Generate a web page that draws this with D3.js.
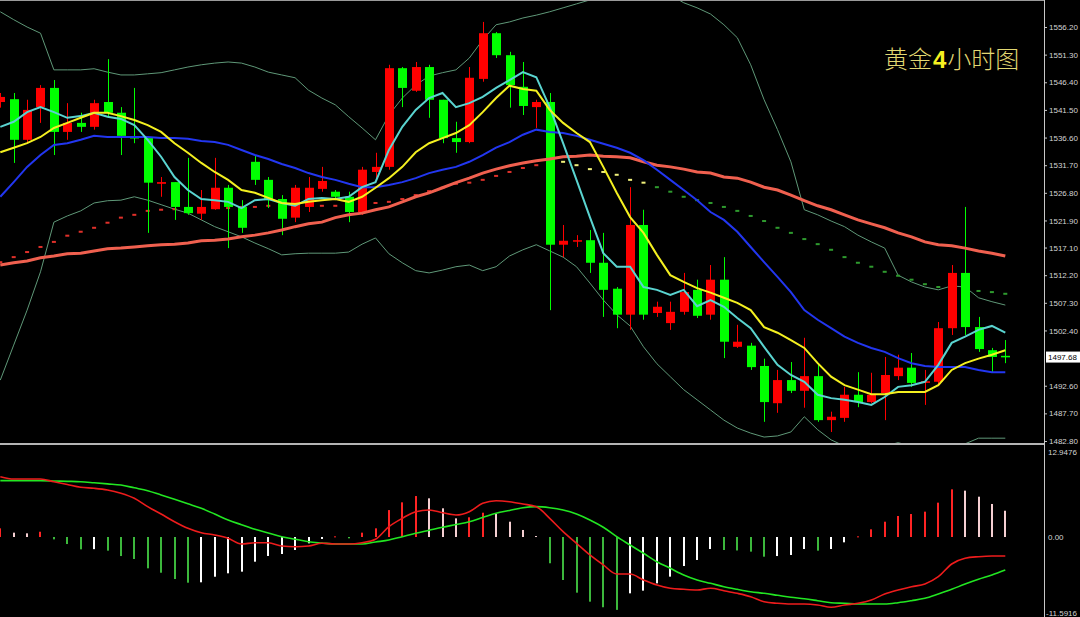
<!DOCTYPE html>
<html><head><meta charset="utf-8">
<script src="https://cdn.jsdelivr.net/npm/d3@7"></script>
<style>html,body{margin:0;padding:0;background:#000;overflow:hidden}</style>
</head><body><svg id="c" width="1080" height="617"></svg>
<script>
// ---------- data (4h gold candles) ----------
const openP  = [1542.9,1543.4,1536.2,1542.0,1545.4,1537.6,1539.2,1538.5,1542.9,1541.0,1536.7,1536.5,1528.4,1528.7,1524.3,1523.1,1523.9,1527.7,1524.3,1532.3,1529.1,1525.7,1522.4,1524.3,1527.5,1527.0,1526.1,1523.4,1530.5,1531.4,1548.9,1544.9,1549.1,1543.3,1536.5,1535.8,1547.0,1555.1,1551.2,1545.6,1542.0,1542.9,1517.6,1518.3,1518.4,1514.4,1509.8,1505.2,1521.1,1505.5,1503.7,1505.7,1509.6,1505.2,1511.4,1499.5,1499.7,1496.1,1489.5,1493.6,1491.7,1494.3,1486.5,1486.9,1491.0,1489.7,1491.3,1494.3,1495.8,1493.1,1493.3,1502.8,1512.6,1503.0,1498.9,1497.9];
const highP  = [1544.5,1544.5,1543.3,1545.9,1546.8,1542.7,1541.0,1543.3,1550.5,1542.0,1545.4,1536.5,1529.6,1528.7,1533.0,1527.3,1533.0,1528.2,1525.5,1533.5,1529.6,1526.4,1528.2,1529.6,1531.4,1527.3,1527.0,1531.4,1533.9,1549.5,1549.1,1550.0,1549.5,1543.3,1539.4,1549.1,1557.1,1555.3,1551.8,1550.0,1543.3,1544.5,1521.1,1519.3,1520.2,1519.7,1510.1,1527.8,1523.8,1507.5,1507.5,1512.6,1511.4,1514.0,1515.4,1503.4,1500.2,1497.4,1495.4,1496.8,1501.1,1496.6,1488.0,1492.4,1495.0,1494.9,1497.7,1498.1,1498.4,1495.4,1503.9,1514.0,1524.3,1504.8,1499.3,1500.7];
const lowP   = [1541.9,1532.1,1535.6,1539.2,1533.5,1536.2,1537.6,1538.0,1540.1,1533.5,1535.6,1519.7,1526.1,1522.0,1522.9,1522.0,1523.8,1517.0,1519.7,1528.2,1524.1,1519.3,1521.6,1523.4,1527.0,1525.5,1521.6,1522.9,1529.1,1530.9,1542.0,1544.7,1540.1,1535.6,1533.9,1535.6,1546.5,1550.7,1541.9,1540.6,1538.3,1506.0,1515.4,1517.2,1512.6,1504.8,1502.8,1502.5,1504.3,1504.8,1502.5,1505.2,1504.6,1504.3,1497.5,1499.3,1495.4,1486.2,1487.8,1491.3,1488.7,1486.2,1484.4,1486.2,1488.8,1489.5,1486.5,1493.6,1492.4,1489.2,1492.7,1501.6,1501.6,1498.6,1495.0,1496.6];
const closeP = [1543.8,1536.2,1541.5,1545.4,1537.6,1539.2,1538.5,1542.7,1541.0,1536.9,1536.5,1528.6,1528.7,1524.3,1523.2,1524.3,1527.7,1524.3,1520.6,1529.1,1525.5,1522.2,1527.7,1527.7,1528.9,1526.1,1523.4,1530.9,1531.4,1548.9,1545.4,1549.1,1543.3,1536.5,1535.8,1547.2,1555.1,1551.2,1545.9,1542.2,1542.9,1517.6,1518.3,1518.4,1514.4,1509.6,1505.2,1521.1,1505.2,1506.6,1505.7,1509.2,1505.0,1511.4,1500.4,1500.4,1495.9,1489.7,1493.6,1491.7,1494.3,1486.5,1487.1,1491.0,1489.7,1491.0,1494.5,1495.8,1493.1,1493.4,1502.8,1512.6,1503.0,1499.1,1497.7,1497.7];
const lastPrice = 1497.68;

// moving averages and bands
const maFast = [1538.5,1539.4,1541.1,1542.0,1541.1,1540.1,1540.4,1541.0,1540.3,1539.9,1538.8,1536.2,1533.2,1529.6,1527.3,1525.7,1525.5,1525.2,1524.1,1525.5,1525.7,1525.0,1524.5,1525.7,1525.9,1525.7,1526.1,1527.8,1528.7,1534.4,1538.5,1541.5,1543.6,1544.5,1542.0,1542.7,1543.8,1545.4,1546.8,1548.2,1547.3,1542.0,1535.6,1529.1,1522.5,1516.1,1513.7,1513.7,1510.1,1509.6,1508.7,1509.6,1506.7,1507.8,1506.6,1504.6,1502.8,1499.5,1496.3,1494.5,1493.3,1491.0,1490.4,1490.1,1489.7,1489.2,1490.6,1492.4,1492.7,1493.3,1496.3,1500.2,1501.3,1502.5,1503.2,1502.0];
const maMid  = [1534.0,1534.8,1535.6,1536.7,1538.3,1539.2,1540.1,1541.0,1541.0,1540.4,1539.7,1538.8,1537.6,1535.6,1533.9,1532.1,1530.5,1529.1,1527.3,1526.8,1525.9,1525.0,1524.8,1525.2,1525.5,1525.7,1525.2,1526.1,1527.7,1529.4,1531.4,1534.0,1535.6,1536.5,1537.4,1538.8,1541.1,1543.6,1545.8,1545.2,1544.9,1541.5,1539.2,1537.4,1535.8,1531.4,1526.8,1522.5,1519.7,1515.8,1512.2,1511.0,1509.9,1509.1,1508.2,1507.3,1506.0,1503.0,1502.0,1500.7,1499.3,1496.6,1494.2,1492.7,1491.9,1491.1,1491.1,1491.5,1491.5,1491.5,1492.7,1495.4,1496.6,1497.4,1498.1,1498.9];
const maSlow = [1526.1,1528.7,1531.4,1533.5,1535.3,1535.6,1536.2,1536.9,1536.7,1536.7,1536.7,1536.7,1536.5,1536.5,1536.4,1536.0,1535.8,1535.3,1534.4,1533.5,1532.8,1531.9,1531.2,1530.3,1529.6,1529.1,1528.4,1527.8,1527.8,1528.2,1528.7,1529.4,1530.3,1530.9,1531.4,1532.3,1533.5,1534.8,1535.8,1537.1,1538.0,1537.6,1537.4,1536.9,1536.2,1535.5,1534.8,1533.9,1532.6,1530.9,1529.1,1527.3,1525.5,1523.4,1522.0,1519.9,1517.2,1514.5,1511.9,1509.2,1506.0,1504.3,1502.8,1501.3,1500.2,1499.3,1498.6,1497.5,1496.6,1496.1,1495.9,1495.9,1495.9,1495.4,1495.0,1495.0];
const maLong = [1514.0,1514.4,1514.7,1515.3,1515.6,1516.0,1516.1,1516.5,1516.9,1517.0,1517.2,1517.4,1517.6,1517.7,1517.9,1518.3,1518.4,1518.6,1519.0,1519.3,1519.7,1520.2,1520.8,1521.3,1521.6,1522.4,1522.9,1523.2,1523.8,1524.3,1525.2,1526.1,1526.8,1527.7,1528.6,1529.4,1530.3,1531.0,1531.6,1532.1,1532.5,1532.8,1533.2,1533.3,1533.5,1533.3,1533.2,1533.0,1532.3,1531.7,1531.4,1531.0,1530.5,1530.3,1529.6,1529.4,1528.7,1527.8,1527.3,1526.4,1525.4,1524.5,1523.8,1522.9,1522.0,1521.3,1520.6,1519.7,1519.0,1518.1,1517.6,1517.4,1517.0,1516.5,1516.1,1515.6];
const bandUpper = [1558.9,1557.5,1556.2,1555.1,1548.6,1548.6,1548.6,1548.8,1548.2,1547.7,1547.7,1547.9,1548.1,1548.6,1549.1,1549.5,1549.8,1550.0,1549.8,1549.1,1548.2,1547.7,1547.2,1545.0,1543.6,1542.4,1540.3,1538.3,1536.2,1540.6,1543.6,1545.9,1547.5,1548.1,1548.6,1550.7,1553.9,1556.6,1557.1,1557.8,1558.3,1558.9,1559.6,1560.3,1561.0,1561.9,1562.8,1563.1,1563.1,1562.8,1561.9,1560.5,1559.6,1558.5,1556.6,1554.3,1549.5,1543.3,1538.0,1532.3,1523.8,1522.9,1521.8,1520.8,1519.3,1518.1,1517.0,1512.2,1511.0,1510.1,1509.6,1510.3,1510.1,1508.2,1507.5,1506.9];
const bandLower = [1493.6,1499.8,1506.0,1512.8,1521.6,1522.7,1523.6,1525.0,1525.4,1525.5,1526.1,1525.5,1524.7,1523.9,1523.2,1522.0,1520.8,1519.9,1519.0,1517.9,1516.9,1515.8,1516.0,1516.1,1516.1,1516.1,1516.3,1517.7,1518.8,1516.0,1514.4,1513.0,1512.6,1513.1,1513.7,1514.0,1513.0,1513.7,1515.6,1516.7,1517.6,1516.5,1515.4,1513.7,1510.8,1507.8,1505.2,1503.2,1499.5,1496.5,1494.2,1491.9,1490.1,1488.3,1486.5,1485.1,1484.2,1483.5,1483.7,1484.4,1487.1,1484.8,1483.0,1481.9,1481.2,1481.6,1481.9,1482.5,1481.9,1481.6,1481.6,1481.9,1482.3,1483.3,1483.3,1483.3];
const dotted = [1514.5,1515.4,1516.3,1517.2,1518.1,1519.2,1519.9,1520.6,1521.5,1522.4,1522.9,1523.6,1523.8,1523.9,1523.9,1524.1,1524.1,1524.1,1524.3,1524.3,1524.5,1524.5,1524.5,1524.5,1524.5,1524.5,1524.7,1524.8,1525.0,1525.2,1525.7,1526.4,1527.1,1527.7,1528.4,1528.6,1529.1,1529.8,1530.5,1531.2,1531.7,1532.1,1532.3,1531.7,1531.0,1530.5,1530.0,1529.1,1528.6,1527.8,1527.0,1526.1,1525.5,1525.0,1524.3,1523.6,1522.7,1521.8,1520.6,1519.7,1518.6,1517.7,1516.7,1515.4,1514.4,1513.7,1512.8,1512.1,1511.4,1510.6,1510.1,1509.9,1509.8,1509.4,1509.2,1508.9];
const dottedPhaseBreaks = [42, 49]; // red until 42, yellow until 49, green after

// MACD
const macdLine = [9.18,8.83,8.83,8.83,8.42,8.00,7.57,7.42,7.16,6.66,5.89,4.62,3.50,2.33,1.33,0.65,0.30,-0.20,-1.07,-0.87,-0.87,-1.37,-1.48,-1.37,-0.96,-1.07,-1.07,-0.87,-0.35,1.57,2.85,3.85,4.11,3.70,3.35,3.85,5.13,5.53,5.38,5.03,4.62,2.85,0.81,-0.96,-2.74,-4.26,-5.64,-5.64,-6.55,-7.31,-7.81,-7.97,-8.07,-7.81,-8.18,-8.58,-9.09,-9.86,-10.10,-10.21,-10.21,-10.36,-10.71,-10.36,-10.10,-9.60,-8.68,-8.07,-7.57,-7.16,-6.05,-4.11,-3.24,-3.00,-2.89,-2.89];
const signalLine = [8.58,8.58,8.58,8.58,8.53,8.48,8.42,8.26,8.09,7.92,7.49,7.05,6.40,5.74,5.06,4.37,3.50,2.59,1.87,1.17,0.61,0.05,-0.34,-0.72,-0.91,-1.07,-1.07,-1.07,-0.76,-0.46,0.05,0.56,1.02,1.48,1.90,2.33,2.97,3.61,4.04,4.46,4.62,4.46,4.11,3.50,2.59,1.48,0.05,-1.22,-2.48,-3.76,-4.77,-5.79,-6.55,-7.05,-7.57,-7.97,-8.33,-8.58,-8.88,-9.18,-9.40,-9.70,-10.01,-10.10,-10.21,-10.21,-10.21,-10.01,-9.70,-9.34,-8.68,-7.97,-7.16,-6.44,-5.79,-5.03];
const histogram = [1.32,0.66,0.56,0.80,-0.36,-1.07,-1.88,-1.85,-2.08,-2.90,-3.35,-4.77,-5.44,-6.40,-6.96,-6.90,-6.05,-5.53,-5.28,-3.76,-2.89,-2.59,-1.98,-0.96,-0.30,0.10,-0.20,0.66,1.32,4.10,5.28,6.24,5.89,4.37,2.84,3.00,3.70,3.50,2.33,1.07,0.15,-4.00,-6.55,-8.48,-9.85,-10.70,-11.10,-8.58,-8.17,-7.06,-6.04,-4.42,-3.50,-1.83,-1.98,-2.05,-2.23,-3.00,-2.90,-2.74,-1.83,-2.08,-1.83,-0.81,0.10,1.17,2.33,3.20,3.50,3.86,5.23,7.26,7.06,6.14,5.03,4.00];

// axis ticks
const priceTicks = [1556.20,1551.30,1546.40,1541.50,1536.60,1531.70,1526.80,1521.90,1517.10,1512.20,1507.30,1502.40,1492.60,1487.70,1482.80];
const macdTicks = [12.9476, 0, -11.5916];
const macdTickLabels = ["12.9476","0.00","-11.5916"];
const titleParts = ["黄金","4","小时图"];

// ---------- drawing ----------
const svg = d3.select("#c");
const N = closeP.length;
const idx = d3.range(N);
const x = d3.scaleLinear().domain([0, N-1]).range([0.3, 1005.3]);
const y = d3.scaleLinear().domain([1482.8, 1556.2]).range([441, 27]);
const ym = d3.scaleLinear().domain([-11.5916, 12.9476]).range([613.1, 452]);
const AX = 1044;
const FONT = "'Liberation Sans', Arial, sans-serif";

svg.append("rect").attr("width",1080).attr("height",617).attr("fill","#000");
const defs = svg.append("defs");
defs.append("clipPath").attr("id","main").append("rect").attr("x",0).attr("y",1).attr("width",AX).attr("height",442);
defs.append("clipPath").attr("id","sub").append("rect").attr("x",0).attr("y",446).attr("width",AX).attr("height",171);

const main = svg.append("g").attr("clip-path","url(#main)");
const lineOf = arr => d3.line().x(i=>x(i)).y(i=>y(arr[i]))(idx);

// bands
[bandUpper, bandLower].forEach(b=>{
  main.append("path").attr("d",lineOf(b)).attr("fill","none").attr("stroke","#5f9878").attr("stroke-width",1);
});
// dotted line
main.selectAll("rect.dot").data(idx).join("rect").attr("class","dot")
  .attr("x",i=>x(i)-2).attr("y",i=>y(dotted[i])-1).attr("width",4).attr("height",2)
  .attr("fill",i=> i<dottedPhaseBreaks[0] ? "#e0302a" : (i<dottedPhaseBreaks[1] ? "#f0f07a" : "#2e9a2e"));

// candles
const cg = main.append("g");
const col = i => closeP[i] >= openP[i] ? "#ff0000" : "#00ff00";
cg.selectAll("line.w").data(idx).join("line").attr("class","w")
  .attr("x1",i=>Math.round(x(i))+0.5).attr("x2",i=>Math.round(x(i))+0.5)
  .attr("y1",i=>y(highP[i])).attr("y2",i=>y(lowP[i]))
  .attr("stroke",col).attr("stroke-width",1);
cg.selectAll("rect.b").data(idx).join("rect").attr("class","b")
  .attr("x",i=>Math.round(x(i))-4).attr("width",9)
  .attr("y",i=>y(Math.max(openP[i],closeP[i])))
  .attr("height",i=>Math.max(1.5, Math.abs(y(openP[i])-y(closeP[i]))))
  .attr("fill",col);

// moving averages
main.append("path").attr("d",lineOf(maLong)).attr("fill","none").attr("stroke","#f0604f").attr("stroke-width",3);
main.append("path").attr("d",lineOf(maSlow)).attr("fill","none").attr("stroke","#2236f0").attr("stroke-width",2);
main.append("path").attr("d",lineOf(maFast)).attr("fill","none").attr("stroke","#5ad4d0").attr("stroke-width",2);
main.append("path").attr("d",lineOf(maMid)).attr("fill","none").attr("stroke","#f4f020").attr("stroke-width",2);

// frame lines
svg.append("line").attr("x1",0).attr("x2",AX).attr("y1",0.5).attr("y2",0.5).attr("stroke","#9a9a9a");
svg.append("rect").attr("x",0).attr("y",443).attr("width",AX+1).attr("height",2).attr("fill","#b4b4b4");
svg.append("line").attr("x1",AX+0.5).attr("x2",AX+0.5).attr("y1",0).attr("y2",617).attr("stroke","#c8c8c8");

// title
const t = svg.append("text").attr("x",884).attr("y",68).attr("font-family","'Noto Sans CJK SC', sans-serif")
  .attr("font-size",24);
t.append("tspan").text(titleParts[0]).attr("fill","#e2d872").attr("font-weight",300);
t.append("tspan").text(titleParts[1]).attr("fill","#f6f020").attr("font-weight",700).attr("font-family",FONT).attr("dx",1);
t.append("tspan").text(titleParts[2]).attr("fill","#e2d872").attr("font-weight",300).attr("dx",1);

// price axis
const axText = sel => sel.attr("font-family",FONT).attr("font-size",8);
const pa = svg.append("g").attr("transform",`translate(${AX},0)`)
  .call(d3.axisRight(y).tickValues(priceTicks).tickSize(3).tickPadding(2).tickFormat(d3.format(".2f")));
pa.select(".domain").remove();
pa.selectAll("line").attr("stroke","#c8c8c8");
pa.selectAll("text").attr("fill","#d4d4d4").call(axText);

// current price tag
const tagY = y(lastPrice);
svg.append("rect").attr("x",AX+2).attr("y",tagY-5.5).attr("width",34).attr("height",11).attr("fill","#ffffff");
svg.append("text").attr("x",AX+4).attr("y",tagY).attr("dy","0.34em").text(d3.format(".2f")(lastPrice))
  .attr("fill","#000").call(axText);

// MACD axis
const ma = svg.append("g").attr("transform",`translate(${AX},0)`)
  .call(d3.axisRight(ym).tickValues(macdTicks).tickSize(0).tickPadding(4).tickFormat((d,k)=>macdTickLabels[k]));
ma.select(".domain").remove();
ma.selectAll("text").attr("fill","#d4d4d4").call(axText);
ma.selectAll("text").filter(function(){ return this.textContent[0]==="-"; }).attr("x",2);

// MACD panel
const sub = svg.append("g").attr("clip-path","url(#sub)");
const hcol = i => {
  const v = histogram[i], p = i>0 ? histogram[i-1] : v - 1;
  if (v >= 0) return v >= p ? "#ff2424" : "#f5cfd2";
  return v < p ? "#3cb83c" : "#ffffff";
};
sub.selectAll("rect.h").data(idx).join("rect").attr("class","h")
  .attr("x",i=>Math.round(x(i))-1).attr("width",2)
  .attr("y",i=>Math.min(ym(0), ym(histogram[i])))
  .attr("height",i=>Math.max(1, Math.abs(ym(histogram[i])-ym(0))))
  .attr("fill",hcol);
const mline = arr => d3.line().x(i=>x(i)).y(i=>ym(arr[i])).curve(d3.curveMonotoneX)(idx);
sub.append("path").attr("d",mline(signalLine)).attr("fill","none").attr("stroke","#22e622").attr("stroke-width",1.6);
sub.append("path").attr("d",mline(macdLine)).attr("fill","none").attr("stroke","#ee1c1c").attr("stroke-width",1.6);
</script>
</body></html>
